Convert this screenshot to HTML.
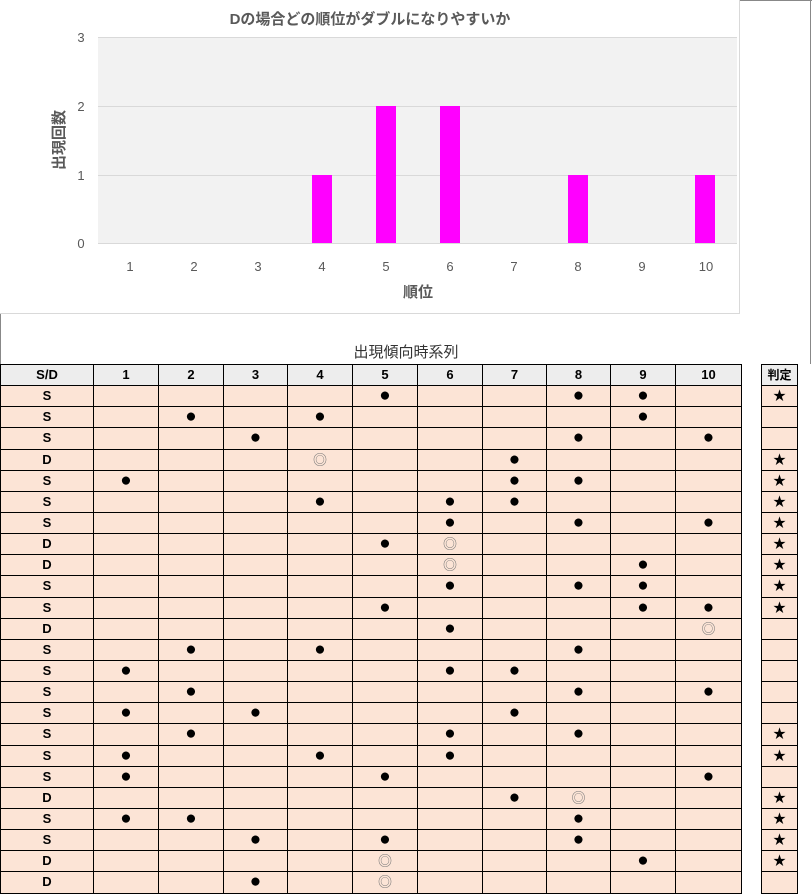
<!DOCTYPE html>
<html><head><meta charset="utf-8"><style>
body{margin:0;width:812px;height:894px;background:#fff;position:relative;overflow:hidden;font-family:"Liberation Sans Narrow","Liberation Sans","Noto Sans CJK JP",sans-serif;}
.abs{position:absolute}
table{position:absolute;border-collapse:collapse;table-layout:fixed;}
td{border:1px solid #000;padding:0;text-align:center;font-weight:bold;font-size:13px;height:20.15px;line-height:14px;background:#fce4d6;color:#000;overflow:hidden;}
tr.h td{background:#ededed;}
.d{font-size:19px;line-height:14px}
.c{font-size:14px;color:#777;font-weight:normal}
</style></head><body>
<div class="abs" style="left:0;top:0;width:739px;height:313px;border-right:1px solid #d9d9d9;border-bottom:1px solid #d9d9d9"></div>
<div class="abs" style="left:740px;top:0;width:72px;height:1px;background:#888"></div>
<div class="abs" style="left:810px;top:0;width:1px;height:364px;background:#888"></div>
<div class="abs" style="left:0;top:314px;width:1px;height:50px;background:#888"></div>
<div class="abs" style="left:0;top:8px;width:740px;text-align:center;font-size:15px;font-weight:bold;color:#595959;font-family:'Liberation Sans','Noto Sans CJK JP',sans-serif">Dの場合どの順位がダブルになりやすいか</div>
<svg class="abs" style="left:0;top:0" width="740" height="314">
<rect x="98" y="37" width="639" height="206" fill="#f2f2f2"/>
<g stroke="#d9d9d9" stroke-width="1"><line x1="98" x2="737" y1="37.5" y2="37.5"/><line x1="98" x2="737" y1="106.5" y2="106.5"/><line x1="98" x2="737" y1="175.5" y2="175.5"/><line x1="98" x2="737" y1="243.5" y2="243.5"/></g>
<g fill="#ff00ff"><rect x="312" y="175" width="20" height="68"/><rect x="376" y="106" width="20" height="137"/><rect x="440" y="106" width="20" height="137"/><rect x="568" y="175" width="20" height="68"/><rect x="695" y="175" width="20" height="68"/></g>
<g font-family="Liberation Sans Narrow,Liberation Sans,sans-serif" font-size="13" fill="#595959" text-anchor="middle">
<text x="81" y="42">3</text><text x="81" y="111">2</text><text x="81" y="180">1</text><text x="81" y="248">0</text>
<text x="130" y="271">1</text><text x="194" y="271">2</text><text x="258" y="271">3</text><text x="322" y="271">4</text><text x="386" y="271">5</text><text x="450" y="271">6</text><text x="514" y="271">7</text><text x="578" y="271">8</text><text x="642" y="271">9</text><text x="706" y="271">10</text>
</g>
<text x="418" y="297" font-family="Liberation Sans,Noto Sans CJK JP,sans-serif" font-size="15" font-weight="bold" fill="#595959" text-anchor="middle">順位</text>
<text transform="translate(64,140) rotate(-90)" font-family="Liberation Sans,Noto Sans CJK JP,sans-serif" font-size="15" font-weight="bold" fill="#595959" text-anchor="middle">出現回数</text>
</svg>
<div class="abs" style="left:0;top:341px;width:812px;text-align:center;font-size:15px;color:#333;font-family:'Liberation Sans','Noto Sans CJK JP',sans-serif">出現傾向時系列</div>
<table style="left:0;top:364px;width:741px">
<colgroup><col style="width:93px"><col style="width:65px"><col style="width:65px"><col style="width:64px"><col style="width:65px"><col style="width:65px"><col style="width:65px"><col style="width:64px"><col style="width:64px"><col style="width:65px"><col style="width:66px"></colgroup>
<tr class="h"><td>S/D</td><td>1</td><td>2</td><td>3</td><td>4</td><td>5</td><td>6</td><td>7</td><td>8</td><td>9</td><td>10</td></tr>
<tr><td>S</td><td></td><td></td><td></td><td></td><td class="d">●</td><td></td><td></td><td class="d">●</td><td class="d">●</td><td></td></tr>
<tr><td>S</td><td></td><td class="d">●</td><td></td><td class="d">●</td><td></td><td></td><td></td><td></td><td class="d">●</td><td></td></tr>
<tr><td>S</td><td></td><td></td><td class="d">●</td><td></td><td></td><td></td><td></td><td class="d">●</td><td></td><td class="d">●</td></tr>
<tr><td>D</td><td></td><td></td><td></td><td class="c">◎</td><td></td><td></td><td class="d">●</td><td></td><td></td><td></td></tr>
<tr><td>S</td><td class="d">●</td><td></td><td></td><td></td><td></td><td></td><td class="d">●</td><td class="d">●</td><td></td><td></td></tr>
<tr><td>S</td><td></td><td></td><td></td><td class="d">●</td><td></td><td class="d">●</td><td class="d">●</td><td></td><td></td><td></td></tr>
<tr><td>S</td><td></td><td></td><td></td><td></td><td></td><td class="d">●</td><td></td><td class="d">●</td><td></td><td class="d">●</td></tr>
<tr><td>D</td><td></td><td></td><td></td><td></td><td class="d">●</td><td class="c">◎</td><td></td><td></td><td></td><td></td></tr>
<tr><td>D</td><td></td><td></td><td></td><td></td><td></td><td class="c">◎</td><td></td><td></td><td class="d">●</td><td></td></tr>
<tr><td>S</td><td></td><td></td><td></td><td></td><td></td><td class="d">●</td><td></td><td class="d">●</td><td class="d">●</td><td></td></tr>
<tr><td>S</td><td></td><td></td><td></td><td></td><td class="d">●</td><td></td><td></td><td></td><td class="d">●</td><td class="d">●</td></tr>
<tr><td>D</td><td></td><td></td><td></td><td></td><td></td><td class="d">●</td><td></td><td></td><td></td><td class="c">◎</td></tr>
<tr><td>S</td><td></td><td class="d">●</td><td></td><td class="d">●</td><td></td><td></td><td></td><td class="d">●</td><td></td><td></td></tr>
<tr><td>S</td><td class="d">●</td><td></td><td></td><td></td><td></td><td class="d">●</td><td class="d">●</td><td></td><td></td><td></td></tr>
<tr><td>S</td><td></td><td class="d">●</td><td></td><td></td><td></td><td></td><td></td><td class="d">●</td><td></td><td class="d">●</td></tr>
<tr><td>S</td><td class="d">●</td><td></td><td class="d">●</td><td></td><td></td><td></td><td class="d">●</td><td></td><td></td><td></td></tr>
<tr><td>S</td><td></td><td class="d">●</td><td></td><td></td><td></td><td class="d">●</td><td></td><td class="d">●</td><td></td><td></td></tr>
<tr><td>S</td><td class="d">●</td><td></td><td></td><td class="d">●</td><td></td><td class="d">●</td><td></td><td></td><td></td><td></td></tr>
<tr><td>S</td><td class="d">●</td><td></td><td></td><td></td><td class="d">●</td><td></td><td></td><td></td><td></td><td class="d">●</td></tr>
<tr><td>D</td><td></td><td></td><td></td><td></td><td></td><td></td><td class="d">●</td><td class="c">◎</td><td></td><td></td></tr>
<tr><td>S</td><td class="d">●</td><td class="d">●</td><td></td><td></td><td></td><td></td><td></td><td class="d">●</td><td></td><td></td></tr>
<tr><td>S</td><td></td><td></td><td class="d">●</td><td></td><td class="d">●</td><td></td><td></td><td class="d">●</td><td></td><td></td></tr>
<tr><td>D</td><td></td><td></td><td></td><td></td><td class="c">◎</td><td></td><td></td><td></td><td class="d">●</td><td></td></tr>
<tr><td>D</td><td></td><td></td><td class="d">●</td><td></td><td class="c">◎</td><td></td><td></td><td></td><td></td><td></td></tr>
</table>
<table style="left:761px;top:364px;width:37px">
<tr class="h"><td style="font-size:12px">判定</td></tr>
<tr><td>★</td></tr><tr><td></td></tr><tr><td></td></tr><tr><td>★</td></tr><tr><td>★</td></tr><tr><td>★</td></tr><tr><td>★</td></tr><tr><td>★</td></tr><tr><td>★</td></tr><tr><td>★</td></tr><tr><td>★</td></tr><tr><td></td></tr><tr><td></td></tr><tr><td></td></tr><tr><td></td></tr><tr><td></td></tr><tr><td>★</td></tr><tr><td>★</td></tr><tr><td></td></tr><tr><td>★</td></tr><tr><td>★</td></tr><tr><td>★</td></tr><tr><td>★</td></tr><tr><td></td></tr>
</table>
</body></html>
